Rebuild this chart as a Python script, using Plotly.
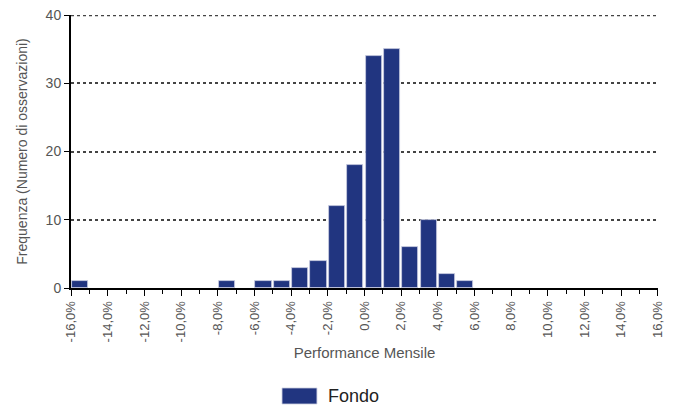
import plotly.graph_objects as go

bin_starts = [-16, -8, -6, -5, -4, -3, -2, -1, 0, 1, 2, 3, 4, 5]
frequencies = [1, 1, 1, 1, 3, 4, 12, 18, 34, 35, 6, 10, 2, 1]
tick_values = list(range(-16, 17, 2))
tick_labels = [f"{v},0%" for v in tick_values]
y_ticks = [0, 10, 20, 30, 40]
series_name = "Fondo"

centers = [s + 0.5 for s in bin_starts]
bar_color = "#213580"
grid_color = "#444444"

fig = go.Figure()
fig.add_trace(go.Bar(
    x=centers, y=frequencies, width=0.88, name=series_name,
    marker=dict(color=bar_color, line=dict(color="#c9cde0", width=0.8)),
    showlegend=False, hoverinfo="skip",
))

grey = "#555555"
fig.update_layout(
    width=677, height=408,
    margin=dict(l=71, r=19, t=15, b=120, autoexpand=False),
    paper_bgcolor="white", plot_bgcolor="white",
    font=dict(family="Liberation Sans, Arial, sans-serif", color=grey, size=13),
    showlegend=False,
    bargap=0,
    hovermode=False,
)
# top gridline (plotly omits the grid line on the plot edge)
fig.add_shape(type="line", xref="paper", yref="y", x0=0, x1=1, y0=y_ticks[-1], y1=y_ticks[-1],
              line=dict(color=grid_color, width=2, dash="dot"), layer="below")
# legend drawn as swatch + label
fig.add_shape(type="rect", xref="paper", yref="paper",
              x0=0.3595, x1=0.419, y0=-0.4249, y1=-0.3663,
              fillcolor=bar_color, line=dict(color="#c9cde0", width=0.8))
fig.add_annotation(text=series_name, xref="paper", yref="paper",
                   x=0.4344, y=-0.3956, xanchor="left", yanchor="middle",
                   showarrow=False, font=dict(size=18, color="#222222"))
fig.update_xaxes(
    range=[-16, 16.01], tickvals=tick_values, ticktext=tick_labels, tickangle=-90,
    automargin=False,
    showline=True, linecolor="black", linewidth=2, ticks="outside", ticklen=6,
    tickcolor="black", showgrid=False, zeroline=False,
    minor=dict(dtick=1, tick0=0, ticks="outside", ticklen=4, tickcolor="black", showgrid=False),
    tickfont=dict(size=13, color=grey),
    title=dict(text="Performance Mensile", font=dict(size=15, color=grey), standoff=6),
)
fig.update_yaxes(
    range=[0, 40.02], tickvals=y_ticks, automargin=False,
    showline=True, linecolor="black", linewidth=2, ticks="outside", ticklen=5,
    tickcolor="black", showgrid=True, gridcolor=grid_color, griddash="dot", gridwidth=2,
    zeroline=False, tickfont=dict(size=14, color=grey),
    title=dict(text="Frequenza (Numero di osservazioni)", font=dict(size=14, color=grey), standoff=15),
)
fig.write_html("out.html", config={"displayModeBar": False},
               post_script="document.body.style.margin='0';")
